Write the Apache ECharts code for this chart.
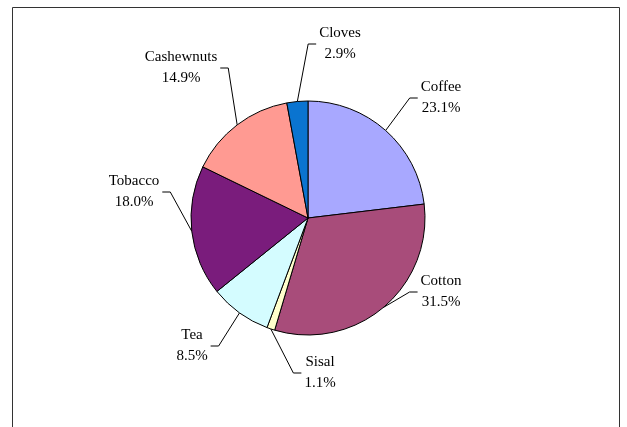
<!DOCTYPE html>
<html>
<head>
<meta charset="utf-8">
<title>Export crops share</title>
<script src="https://cdn.jsdelivr.net/npm/echarts@6/dist/echarts.min.js"></script>
<style>
  html, body { margin: 0; padding: 0; background: #fff; }
  #chart { width: 627px; height: 427px; }
</style>
</head>
<body>
<div id="chart"></div>
<script>
// Share of export value by crop, clockwise from 12 o'clock (percent)
const crops = ['Coffee', 'Cotton', 'Sisal', 'Tea', 'Tobacco', 'Cashewnuts', 'Cloves'];
const shares = [23.1, 31.5, 1.1, 8.5, 18.0, 14.9, 2.9];
const sliceColors = ['#A8A8FF', '#A84C7A', '#FFFFCC', '#D4FCFF', '#7A1C7C', '#FF9A92', '#0A74D0'];

// Pie geometry (pixels)
const pieCenter = [308, 218];
const pieRadius = 117;

// Where each two-line label sits, as an offset of its centre from the pie centre
const labelOffsets = {
  Coffee: [133, -120],
  Cotton: [133, 74],
  Sisal: [12, 155],
  Tea: [-116, 128],
  Tobacco: [-174, -26],
  Cashewnuts: [-127, -150],
  Cloves: [32, -174]
};

const chart = echarts.init(document.getElementById('chart'), null, { renderer: 'canvas' });

chart.setOption({
  animation: false,
  backgroundColor: '#ffffff',
  graphic: [{
    type: 'rect',
    shape: { x: 12.5, y: 7.5, width: 607, height: 440 },
    style: { fill: 'none', stroke: '#333333', lineWidth: 1 },
    silent: true,
    z: -1
  }],
  series: [{
    type: 'pie',
    center: pieCenter,
    radius: pieRadius,
    startAngle: 90,
    clockwise: true,
    avoidLabelOverlap: false,
    emphasis: { disabled: true },
    itemStyle: { borderColor: '#000000', borderWidth: 1 },
    label: {
      show: true,
      position: 'outside',
      color: '#000000',
      fontFamily: 'Liberation Serif',
      fontSize: 15,
      lineHeight: 21,
      formatter: p => p.name + '\n' + p.value.toFixed(1) + '%'
    },
    labelLine: {
      show: true,
      smooth: false,
      lineStyle: { color: '#000000', width: 1 }
    },
    labelLayout: function (params) {
      const name = crops[params.dataIndex];
      const off = labelOffsets[name];
      const x = pieCenter[0] + off[0];
      const y = pieCenter[1] + off[1];
      const w = params.labelRect.width;
      const start = params.labelLinePoints ? params.labelLinePoints[0] : [x, y];
      let end, bend;
      if (x >= pieCenter[0]) {
        end = [x - w / 2 - 3, y];
        bend = [end[0] - 8, y];
      } else {
        end = [x + w / 2 + 3, y];
        bend = [end[0] + 8, y];
      }
      return {
        x: x,
        y: y,
        align: 'center',
        verticalAlign: 'middle',
        labelLinePoints: [start, bend, end]
      };
    },
    data: crops.map((name, i) => ({
      name: name,
      value: shares[i],
      itemStyle: { color: sliceColors[i] }
    }))
  }]
});
</script>
</body>
</html>
